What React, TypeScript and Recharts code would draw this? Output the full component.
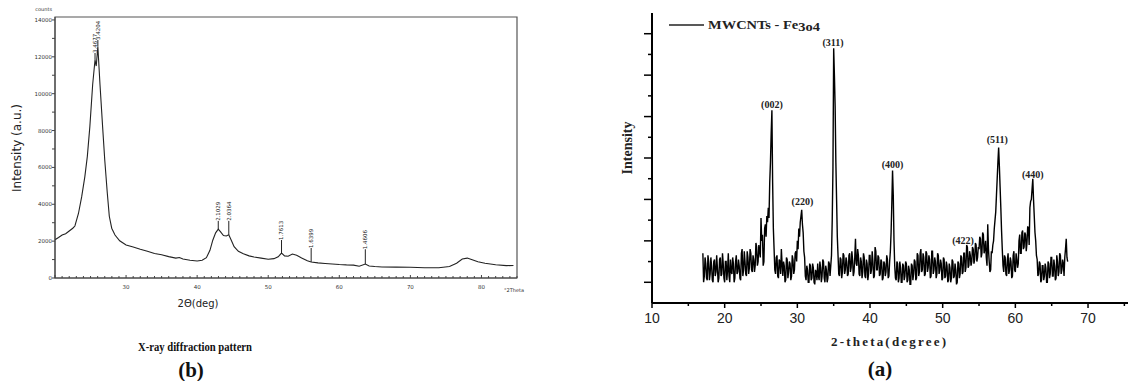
import React from "react";
import { ComposedChart, Line, XAxis, YAxis, ReferenceArea, ReferenceLine, ReferenceDot } from "recharts";

// ---- (b) X-ray diffraction pattern: counts vs 2theta ----
const thetaB = [
  20.0, 20.5, 21.0, 21.5, 22.0, 22.5, 22.8, 23.3, 23.75, 24.2, 24.55, 24.9, 25.3, 25.63, 25.8, 26.03,
  26.33, 26.7, 27.0, 27.36, 27.64, 27.98, 28.44, 29.1, 30.0, 31.0, 32.0,
  33.0, 34.0, 35.0, 36.0, 37.0, 37.5, 38.0, 39.0, 40.0, 40.7, 41.3, 41.8, 42.2, 42.6, 42.97, 43.3,
  43.7, 44.1, 44.45, 44.8, 45.2, 45.8, 46.5, 47.3, 48.0, 49.0, 50.0, 50.8, 51.4, 51.87, 52.3, 52.8,
  53.4, 54.0, 54.7, 55.5, 56.04, 57.0, 58.0, 59.0, 60.0, 61.0, 62.0, 62.8, 63.66, 64.2, 65.0, 66.0,
  68.0, 70.0, 72.0, 74.0, 75.5, 76.5, 77.3, 78.0, 78.6, 79.5, 80.5, 82.0, 83.5, 84.5,
];
const countsB = [
  2080, 2200, 2330, 2400, 2550, 2700, 2820, 3500, 4400, 5500, 6600, 8200, 10500, 11830, 11500, 12550,
  10500, 8200, 6400, 4600, 3350, 2700, 2330, 2020, 1790, 1680, 1560,
  1450, 1330, 1260, 1160, 1080, 1110, 1030, 960, 920, 960, 1100, 1500, 2050, 2450, 2650, 2500,
  2300, 2280, 2350, 2050, 1700, 1450, 1320, 1200, 1140, 1080, 1020, 1050, 1150, 1350, 1200, 1180,
  1300, 1230, 1080, 930, 870, 820, 790, 760, 730, 710, 700, 640, 760, 650, 620, 600,
  590, 580, 560, 560, 620, 800, 1030, 1080, 1000, 880, 800, 720, 670, 680,
];
const peakThetaB = [25.63, 26.03, 42.97, 44.45, 51.87, 56.04, 63.66];
const peakCountsB = [11830, 12550, 2650, 2350, 1350, 870, 760];
const peakTopB = [12210, 12910, 3100, 3100, 2060, 1630, 1560];
const peakLabelB = ["3.4677", "3.4204", "2.1029", "2.0364", "1.7613", "1.6399", "1.4606"];
const xLabelsB = [30, 40, 50, 60, 70, 80];
const yLabelsB = [0, 2000, 4000, 6000, 8000, 10000, 12000, 14000];

// ---- (a) MWCNTs - Fe3O4, one value every 0.1 deg from 17.0 (one row per degree) ----
const startA = 17;
const stepA = 0.1;
const intensityA = [
  2.4, 1.0, 1.3, 2.2, 1.9, 1.2, 1.1, 2.3, 2.0, 1.1,
  1.4, 2.2, 1.8, 1.1, 1.0, 2.0, 2.1, 1.3, 1.5, 2.3,
  1.7, 1.0, 1.2, 2.1, 2.2, 1.3, 1.4, 2.4, 1.9, 1.2,
  1.0, 2.0, 2.0, 1.1, 1.6, 2.4, 1.3, 1.0, 2.1, 1.5,
  1.4, 2.2, 1.9, 1.0, 1.2, 2.0, 2.3, 1.4, 1.5, 2.1,
  1.8, 1.2, 1.1, 2.4, 2.6, 1.3, 1.6, 2.5, 2.0, 1.4,
  1.3, 2.5, 2.2, 1.4, 1.7, 2.6, 2.4, 1.6, 1.5, 2.3,
  2.1, 1.5, 1.8, 2.9, 2.7, 1.8, 2.0, 2.8, 2.5, 2.2,
  4.1, 3.0, 3.3, 1.8, 2.0, 3.6, 3.8, 3.2, 4.2, 3.9,
  4.6, 4.1, 5.8, 6.8, 8.2, 9.3, 5.8, 3.6, 2.6, 1.6,
  1.4, 2.2, 2.3, 1.3, 1.2, 2.1, 2.0, 1.4, 2.6, 1.9,
  1.3, 2.0, 1.8, 1.0, 1.1, 2.2, 2.1, 1.2, 1.5, 2.0,
  1.9, 1.1, 1.3, 2.3, 2.1, 1.4, 1.6, 2.4, 2.5, 2.0,
  3.0, 2.6, 3.6, 3.2, 3.9, 4.2, 4.5, 3.8, 3.4, 2.5,
  2.2, 1.3, 1.1, 1.8, 1.6, 1.0, 1.0, 1.9, 1.8, 1.1,
  1.2, 1.9, 1.7, 1.0, 0.9, 1.6, 1.5, 1.1, 1.9, 1.3,
  1.1, 2.0, 1.7, 1.0, 1.3, 2.1, 2.0, 1.2, 1.0, 1.8,
  1.6, 1.0, 1.2, 2.0, 1.9, 1.3, 1.8, 2.3, 4.0, 6.5,
  12.3, 11.0, 9.5, 6.8, 5.0, 3.2, 2.3, 1.4, 1.3, 2.2,
  2.1, 1.2, 1.5, 2.4, 2.3, 1.4, 1.6, 2.2, 2.0, 1.3,
  1.4, 2.3, 2.4, 1.5, 1.7, 2.5, 2.1, 1.3, 1.5, 2.2,
  3.1, 1.9, 1.8, 2.6, 2.3, 1.4, 1.3, 2.2, 2.0, 1.2,
  1.5, 2.4, 2.2, 1.3, 1.2, 2.1, 1.9, 1.1, 1.4, 2.3,
  2.3, 1.4, 1.6, 2.5, 2.0, 1.2, 1.3, 2.7, 2.5, 1.6,
  1.6, 2.3, 2.2, 1.3, 1.4, 2.1, 2.0, 1.1, 1.2, 2.0,
  1.9, 1.3, 1.5, 2.3, 2.1, 1.2, 1.3, 2.0, 2.5, 3.4,
  4.8, 6.4, 5.2, 3.0, 1.8, 1.2, 1.1, 2.0, 1.9, 1.0,
  1.2, 2.0, 1.7, 1.0, 1.0, 1.9, 1.8, 1.1, 1.3, 2.0,
  1.9, 1.0, 1.1, 1.8, 1.6, 0.9, 0.9, 1.9, 1.8, 1.1,
  1.4, 2.1, 2.0, 1.1, 1.2, 2.4, 2.3, 1.3, 1.5, 2.4,
  2.6, 1.5, 1.6, 2.4, 2.2, 1.3, 1.4, 2.5, 2.4, 1.5,
  1.7, 2.3, 2.1, 1.2, 1.3, 2.5, 2.5, 1.4, 1.6, 2.2,
  2.0, 1.2, 1.4, 2.4, 2.3, 1.4, 1.6, 2.1, 1.9, 1.1,
  1.2, 2.2, 2.1, 1.2, 1.3, 2.0, 1.8, 1.0, 1.1, 1.9,
  1.7, 1.0, 1.2, 2.1, 2.0, 1.2, 1.3, 1.9, 1.6, 0.9,
  1.0, 2.0, 1.9, 1.2, 1.4, 2.3, 2.2, 1.4, 1.5, 2.4,
  2.4, 1.5, 1.7, 2.8, 2.7, 1.7, 1.8, 2.5, 2.3, 1.8,
  2.0, 2.7, 2.6, 1.9, 2.1, 2.9, 2.8, 2.0, 2.2, 2.7,
  2.6, 3.2, 3.1, 2.2, 2.4, 3.4, 3.3, 2.4, 2.6, 3.0,
  2.2, 1.8, 3.8, 2.6, 2.0, 1.5, 1.6, 2.5, 2.4, 2.8,
  3.0, 3.6, 4.0, 4.4, 5.2, 6.0, 6.8, 7.5, 6.6, 5.6,
  4.6, 3.5, 2.6, 1.8, 1.5, 2.3, 2.2, 1.4, 1.3, 2.1,
  2.4, 1.4, 1.6, 2.2, 2.0, 1.2, 1.3, 2.3, 2.5, 1.6,
  1.5, 2.4, 2.1, 1.7, 1.9, 3.0, 3.3, 2.4, 2.4, 3.4,
  3.5, 2.6, 2.7, 3.4, 3.3, 2.5, 2.9, 3.7, 3.6, 2.8,
  4.6, 4.9, 5.0, 5.5, 6.0, 5.0, 4.2, 3.4, 3.0, 2.3,
  2.1, 1.3, 1.4, 2.0, 1.9, 1.0, 1.1, 1.8, 1.8, 1.1,
  1.3, 1.9, 1.7, 1.0, 1.0, 2.0, 1.9, 1.2, 1.4, 2.2,
  2.2, 1.3, 1.3, 2.1, 1.8, 1.1, 1.2, 2.3, 2.0, 1.3,
  1.5, 2.4, 2.3, 1.4, 1.6, 2.1, 1.9, 1.3, 2.2, 2.6,
  3.1, 2.2, 2.0,
];
const hklA = ["(002)", "(220)", "(311)", "(400)", "(422)", "(511)", "(440)"];
const hklThetaA = [26.5, 30.7, 34.9, 43.1, 52.8, 57.5, 62.4];
const hklYA = [9.6, 4.9, 12.6, 6.7, 3.0, 7.9, 6.2];
const xLabelsA = [10, 20, 30, 40, 50, 60, 70];

const dataB = thetaB.map((t, i) => ({ t, c: countsB[i] }));
const dataA = intensityA.map((c, i) => ({ t: +(startA + i * stepA).toFixed(1), c }));

const xTicksB: number[] = [];
for (let v = 20; v <= 85; v++) xTicksB.push(v);
const yTicksB: number[] = [];
for (let v = 0; v <= 14000; v += 1000) yTicksB.push(v);
const xTicksA: number[] = [];
for (let v = 10; v <= 75; v += 5) xTicksA.push(v);
const yTicksA = [1, 2, 3, 4, 5, 6, 7, 8, 9, 10, 11, 12, 13];

const serif = "'Liberation Serif', 'DejaVu Serif', serif";
const sans = "'DejaVu Sans', sans-serif";

const XTickB = (p: any) => {
  const v = p.payload.value;
  const major = v % 10 === 0;
  return (
    <g>
      <line x1={p.x} x2={p.x} y1={p.y} y2={p.y - (major ? 3 : 2)} stroke="#444" />
      {xLabelsB.includes(v) && (
        <text x={p.x} y={p.y + 11} textAnchor="middle" fontSize={5.5} fontFamily={sans} fill="#333">{v}</text>
      )}
    </g>
  );
};

const YTickB = (p: any) => {
  const v = p.payload.value;
  return (
    <g>
      <line x1={p.x} x2={p.x - 3} y1={p.y} y2={p.y} stroke="#444" />
      {yLabelsB.includes(v) && (
        <text x={p.x - 3} y={p.y + 2} textAnchor="end" fontSize={5.5} fontFamily={sans} fill="#333">{v}</text>
      )}
    </g>
  );
};

const XTickA = (p: any) => {
  const v = p.payload.value;
  const major = xLabelsA.includes(v);
  return (
    <g>
      <line x1={p.x} x2={p.x} y1={p.y} y2={p.y + (major ? 5 : 3)} stroke="#000" strokeWidth={1.5} />
      {major && (
        <text x={p.x} y={p.y + 20} textAnchor="middle" fontSize={14} fontFamily="'Liberation Sans', Arial, sans-serif" fill="#222">{v}</text>
      )}
    </g>
  );
};

const YTickA = (p: any) => {
  const v = p.payload.value;
  const major = v % 2 === 1;
  return <line x1={p.x} x2={p.x - (major ? 8 : 4)} y1={p.y} y2={p.y} stroke="#000" strokeWidth={1.5} />;
};

export default function App() {
  return (
    <div style={{ position: "absolute", left: 0, top: 0, width: 1129, height: 381, background: "#fff", overflow: "hidden" }}>
      <div style={{ position: "absolute", left: 0, top: 0 }}>
        <ComposedChart width={540} height={300} data={dataB} margin={{ top: 17, right: 23, bottom: 2, left: 15 }}>
          <XAxis dataKey="t" type="number" domain={[20, 85]} ticks={xTicksB} interval={0} tickSize={0} tickMargin={0}
            tickLine={false} tick={<XTickB />} height={20} axisLine={{ stroke: "#444" }} allowDataOverflow />
          <YAxis type="number" domain={[0, 14160]} ticks={yTicksB} interval={0} tickSize={0} tickMargin={0}
            tickLine={false} tick={<YTickB />} width={40} axisLine={{ stroke: "#444" }} allowDataOverflow />
          <ReferenceArea x1={20} x2={85} y1={0} y2={14160} fill="none" stroke="#555" strokeWidth={1.2} />
          <Line dataKey="c" type="linear" dot={false} stroke="#222" strokeWidth={1.1} isAnimationActive={false} />
          {peakThetaB.map((t, i) => (
            <ReferenceLine key={"l" + i} segment={[{ x: t, y: peakCountsB[i] }, { x: t, y: peakTopB[i] }]} stroke="#222" />
          ))}
          {peakThetaB.map((t, i) => (
            <ReferenceDot key={"d" + i} x={t} y={peakTopB[i]} r={1}
              shape={(p: any) => (
                <text x={p.cx} y={p.cy} dy="0.35em" transform={`rotate(-90 ${p.cx} ${p.cy})`} fontSize={5.5}
                  fontFamily={sans} fill="#222">{" " + peakLabelB[i]}</text>
              )} />
          ))}
        </ComposedChart>
      </div>

      <div style={{ position: "absolute", left: 600, top: 0 }}>
        <ComposedChart width={529} height={381} data={dataA} margin={{ top: 13, right: 1, bottom: 48, left: 22 }}>
          <XAxis dataKey="t" type="number" domain={[10, 75.5]} ticks={xTicksA} interval={0} tickSize={0} tickMargin={0}
            tickLine={false} tick={<XTickA />} height={30} axisLine={{ stroke: "#000", strokeWidth: 2 }} allowDataOverflow />
          <YAxis type="number" domain={[0, 14]} ticks={yTicksA} interval={0} tickSize={0} tickMargin={0}
            tickLine={false} tick={<YTickA />} width={30} axisLine={{ stroke: "#000", strokeWidth: 2 }} allowDataOverflow />
          <Line dataKey="c" type="linear" dot={false} stroke="#000" strokeWidth={1.4} isAnimationActive={false} />
          {hklThetaA.map((t, i) => (
            <ReferenceDot key={"h" + i} x={t} y={hklYA[i]} r={1}
              shape={(p: any) => (
                <text x={p.cx} y={p.cy} dy="0.35em" textAnchor="middle" fontSize={10} fontWeight="bold"
                  fontFamily={serif} fill="#222">{hklA[i]}</text>
              )} />
          ))}
        </ComposedChart>
      </div>

      <svg width={1129} height={381} style={{ position: "absolute", left: 0, top: 0, pointerEvents: "none" }}>
        <text x={52} y={11} textAnchor="end" fontSize={5} fontFamily={sans} fill="#333">counts</text>
        <text x={504} y={292} fontSize={5} fontFamily={sans} fill="#333">°2Theta</text>
        <text x={21} y={148} transform="rotate(-90 21 148)" textAnchor="middle" fontSize={12} fontFamily={sans} fill="#222">Intensity (a.u.)</text>
        <text x={198} y={307} textAnchor="middle" fontSize={10} fontFamily={sans} fill="#222">2Θ(deg)</text>
        <text x={138} y={351} textLength={114} lengthAdjust="spacingAndGlyphs" fontSize={13.5} fontWeight="bold" fontFamily={serif} fill="#111">X-ray diffraction pattern</text>
        <text x={191} y={377} textAnchor="middle" fontSize={21} fontWeight="bold" fontFamily={serif} fill="#111">(b)</text>

        <line x1={669} x2={704} y1={25} y2={25} stroke="#222" strokeWidth={1.5} />
        <text x={708} y={29} textLength={112} lengthAdjust="spacingAndGlyphs" fontSize={13} fontWeight="bold" fontFamily={serif} fill="#222">
          MWCNTs - Fe<tspan dy={1.5}>3o4</tspan>
        </text>
        <text x={632} y={148} transform="rotate(-90 632 148)" textAnchor="middle" fontSize={14} fontWeight="bold" fontFamily={serif} fill="#222">Intensity</text>
        <text x={831} y={346} textLength={115} lengthAdjust="spacing" fontSize={13} fontWeight="bold" fontFamily={serif} fill="#222">2-theta(degree)</text>
        <text x={880} y={376} textAnchor="middle" fontSize={21} fontWeight="bold" fontFamily={serif} fill="#111">(a)</text>
      </svg>
    </div>
  );
}
